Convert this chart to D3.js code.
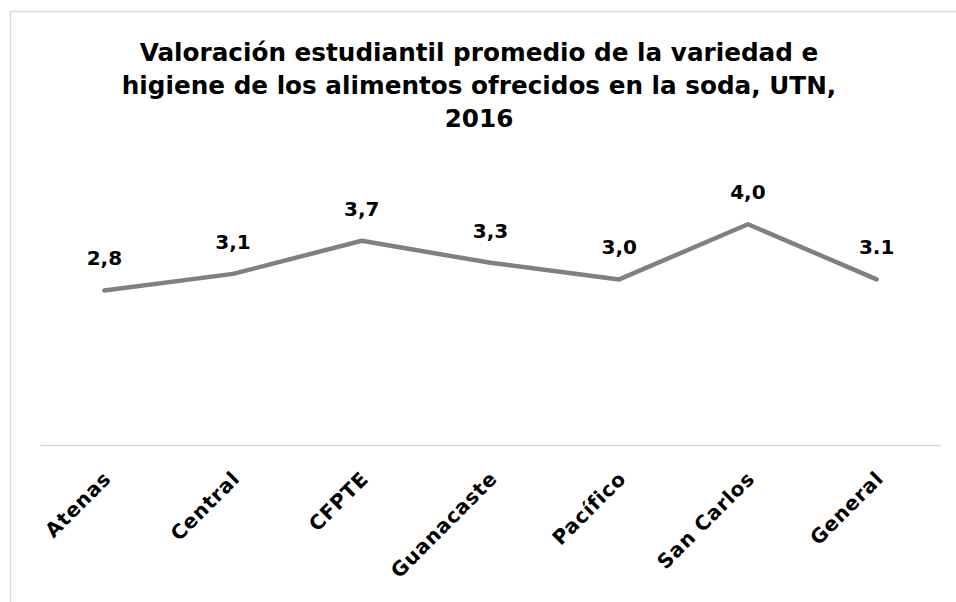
<!DOCTYPE html>
<html>
<head>
<meta charset="utf-8">
<script src="https://cdn.jsdelivr.net/npm/d3@7"></script>
<style>
  body { margin: 0; background: #fff; }
  text { font-family: "DejaVu Sans", sans-serif; font-weight: bold; fill: #000; }
</style>
</head>
<body>
<svg id="chart"></svg>
<script>
var w = 956;
var h = 602;

var titleLines = ["Valoración estudiantil promedio de la variedad e",
                  "higiene de los alimentos ofrecidos en la soda, UTN,",
                  "2016"];
var sedes = ["Atenas", "Central", "CFPTE", "Guanacaste", "Pacífico", "San Carlos", "General"];
var valores = [2.8, 3.1, 3.7, 3.3, 3.0, 4.0, 3.0];
var etiquetas = ["2,8", "3,1", "3,7", "3,3", "3,0", "4,0", "3.1"];

var data = sedes.map(function(s, i) { return { sede: s, valor: valores[i], etiqueta: etiquetas[i] }; });

var svg = d3.select("#chart").attr("width", w).attr("height", h);

// marco del grafico
svg.append("rect")
  .attr("x", 10.5).attr("y", 11.5)
  .attr("width", w + 20).attr("height", h + 20)
  .attr("fill", "none").attr("stroke", "#d9d9d9").attr("stroke-width", 1.5);

svg.append("g").selectAll("text")
  .data(titleLines)
  .enter().append("text")
  .attr("x", 479)
  .attr("y", function(d, i) { return 61 + i * 33; })
  .attr("text-anchor", "middle")
  .attr("font-size", 24.7)
  .text(function(d) { return d; });

var x = d3.scaleBand().domain(sedes).range([40, 941]);
var y = d3.scaleLinear().domain([0, 5]).range([445, 169]);

var xAxis = d3.axisBottom(x).tickSize(0).tickPadding(0);
var gX = svg.append("g").attr("transform", "translate(0,445)").call(xAxis);
gX.select(".domain").attr("stroke", "#d9d9d9").attr("stroke-width", 1.5);
gX.selectAll(".tick text")
  .attr("font-size", 20)
  .attr("letter-spacing", 0.8)
  .attr("text-anchor", "end")
  .attr("dominant-baseline", "central")
  .attr("y", 0).attr("dy", null)
  .attr("transform", "translate(3,30) rotate(-45)");

var line = d3.line()
  .x(function(d) { return x(d.sede) + x.bandwidth() / 2; })
  .y(function(d) { return y(d.valor); });

svg.append("path")
  .datum(data)
  .attr("d", line)
  .attr("fill", "none")
  .attr("stroke", "#808080")
  .attr("stroke-width", 4.5)
  .attr("stroke-linecap", "round")
  .attr("stroke-linejoin", "round");

svg.append("g").selectAll("text")
  .data(data)
  .enter().append("text")
  .attr("x", function(d) { return x(d.sede) + x.bandwidth() / 2; })
  .attr("y", function(d) { return y(d.valor) - 25; })
  .attr("text-anchor", "middle")
  .attr("font-size", 20)
  .text(function(d) { return d.etiqueta; });
</script>
</body>
</html>
